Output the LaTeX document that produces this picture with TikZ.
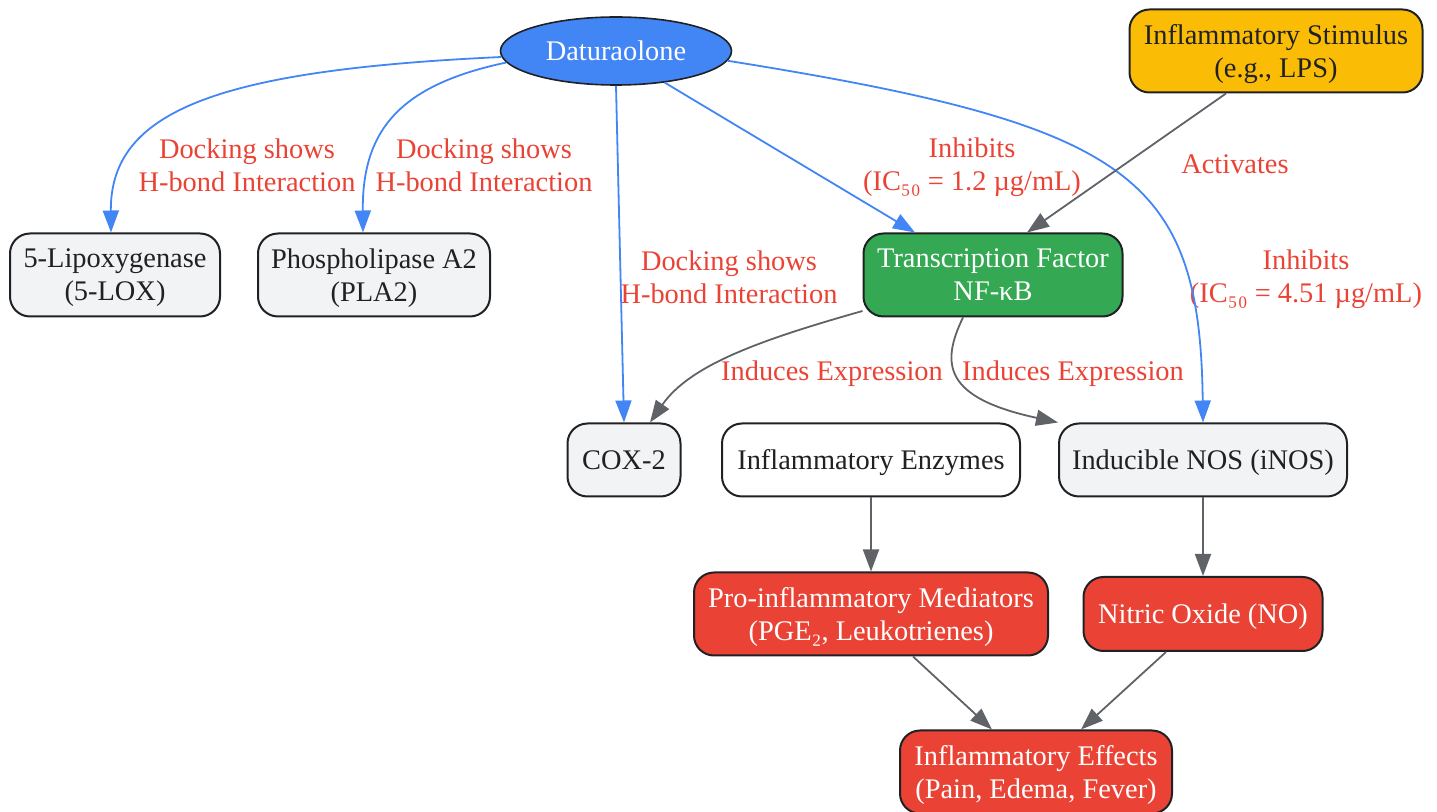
\documentclass[tikz,border=0pt]{standalone}
\usepackage{fontspec}
\setmainfont{Liberation Serif}
\usetikzlibrary{arrows.meta,shapes.geometric}

\definecolor{gblue}{HTML}{4285F4}
\definecolor{ggreen}{HTML}{34A853}
\definecolor{gyellow}{HTML}{FBBC05}
\definecolor{gred}{HTML}{EA4335}
\definecolor{ggray}{HTML}{5F6368}
\definecolor{glight}{HTML}{F1F3F4}
\definecolor{gtext}{HTML}{202124}

\tikzset{
  box/.style={draw=gtext, line width=1pt, rounded corners=10pt, align=center, inner sep=0pt,
    text=gtext, text depth=-2.5pt, font=\fontsize{14.2}{16.5}\selectfont},
  lbl/.style={text=gred, align=center, inner sep=0pt, font=\fontsize{14.2}{16.5}\selectfont},
  blueflow/.style={draw=gblue, line width=0.9pt, -{Triangle[length=11pt,width=8pt]}},
  grayflow/.style={draw=ggray, line width=0.9pt, -{Triangle[length=11pt,width=8pt]}},
}

\begin{document}
\begin{tikzpicture}[x=0.5pt,y=-0.5pt]
\useasboundingbox (0,0) rectangle (1437,812);

% Nodes
\node [ellipse, draw=gtext, line width=0.8pt, fill=gblue, text=white, minimum width=115.5pt, minimum height=34pt,
  inner sep=0pt, font=\fontsize{14.2}{16.5}\selectfont] (dat) at (616,51) {Daturaolone};
\node [box, fill=gyellow, minimum width=146.5pt, minimum height=41.5pt] (stim) at (1276,51) {Inflammatory Stimulus\\(e.g., LPS)};
\node [box, fill=glight, minimum width=105pt, minimum height=41.5pt] (lox) at (115,275) {5-Lipoxygenase\\(5-LOX)};
\node [box, fill=glight, minimum width=116pt, minimum height=41.5pt] (pla) at (374,275) {Phospholipase A2\\(PLA2)};
\node [box, fill=ggreen, text=white, minimum width=129.5pt, minimum height=41.5pt] (nfkb) at (993,275) {Transcription Factor\\NF-κB};
\node [box, fill=glight, minimum width=56.5pt, minimum height=36.5pt] (cox) at (624,460) {COX-2};
\node [box, fill=white, minimum width=149pt, minimum height=36.5pt] (enz) at (871,460) {Inflammatory Enzymes};
\node [box, fill=glight, minimum width=144pt, minimum height=36.5pt] (inos) at (1203,460) {Inducible NOS (iNOS)};
\node [box, fill=gred, text=white, minimum width=177pt, minimum height=41.5pt] (med) at (871,614) {Pro-inflammatory Mediators\\(PGE₂, Leukotrienes)};
\node [box, fill=gred, text=white, minimum width=119.5pt, minimum height=37pt] (no) at (1203,614) {Nitric Oxide (NO)};
\node [box, fill=gred, text=white, minimum width=136pt, minimum height=41.5pt] (eff) at (1036,772) {Inflammatory Effects\\(Pain, Edema, Fever)};

% Edge labels
\node [lbl] (l-lox) at (247,165) {Docking shows\\H-bond Interaction};
\node [lbl] (l-pla) at (484,165) {Docking shows\\H-bond Interaction};
\node [lbl] (l-cox) at (729,277) {Docking shows\\H-bond Interaction};
\node [lbl] (l-nfkb) at (972,167) {Inhibits\\(IC₅₀ = 1.2 µg/mL)};
\node [lbl] (l-stim) at (1235,164) {Activates};
\node [lbl] (l-inos) at (1306,279) {Inhibits\\(IC₅₀ = 4.51 µg/mL)};
\node [lbl] (l-ind1) at (832,374) {Induces Expression};
\node [lbl] (l-ind2) at (1073,374) {Induces Expression};

% Edges
\draw [blueflow] (dat.183) .. controls (220,70) and (110,110) .. ([xshift=-2pt]lox.north);
\draw [blueflow] (dat.186) .. controls (400,85) and (362,130) .. ([xshift=-5.5pt]pla.north);
\draw [blueflow] (dat.south) -- (cox.north);
\draw [blueflow] (dat.-33) -- ([xshift=-39pt]nfkb.north);
\draw [blueflow] (dat.-5) .. controls (1130,125) and (1200,175) .. (inos.north);
\draw [grayflow] ([xshift=-25pt]stim.south) -- ([xshift=17pt]nfkb.north);
\draw [grayflow] ([yshift=-18pt]nfkb.west) .. controls (760,340) and (690,365) .. ([xshift=13pt]cox.north);
\draw [grayflow] ([xshift=-15pt]nfkb.south) .. controls (940,365) and (945,398) .. (inos.north west);
\draw [grayflow] (enz.south) -- (med.north);
\draw [grayflow] (inos.south) -- (no.north);
\draw [grayflow] ([xshift=21pt]med.south) -- ([xshift=-22pt]eff.north);
\draw [grayflow] ([xshift=-18.5pt]no.south) -- ([xshift=22.5pt]eff.north);

\end{tikzpicture}
\end{document}
